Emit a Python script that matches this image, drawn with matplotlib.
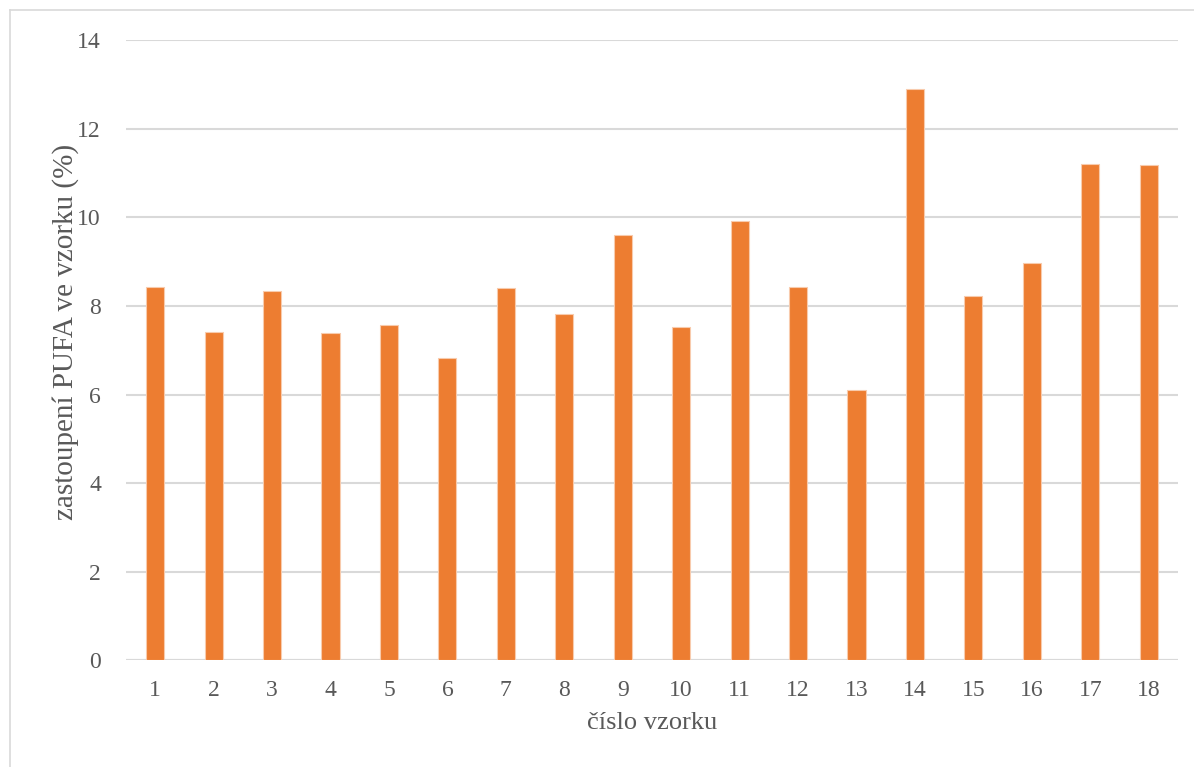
import matplotlib.pyplot as plt
from matplotlib.lines import Line2D

samples = [str(i) for i in range(1, 19)]
pufa = [8.43, 7.41, 8.34, 7.39, 7.57, 6.82, 8.41, 7.82, 9.60,
        7.53, 9.91, 8.42, 6.10, 12.90, 8.23, 8.97, 11.20, 11.17]

plt.rcParams['font.family'] = ['Liberation Serif', 'DejaVu Serif']

fig = plt.figure(figsize=(11.94, 7.67), dpi=100)
ax = fig.add_axes([0.1055, 0.1389, 0.8811, 0.8089])

x = range(len(samples))
ax.bar(x, pufa, width=0.31, color='#ED7D31', edgecolor='#F8CBAD',
       linewidth=0.8, zorder=3)

ax.set_xlim(-0.5, len(samples) - 0.5)
ax.set_ylim(0, 14)
ax.set_yticks(range(0, 15, 2))
ax.set_xticks(list(x))
ax.set_xticklabels(samples)
ax.yaxis.grid(True, color='#D9D9D9', linewidth=1.5, zorder=0)
ax.set_axisbelow(True)
for s in ax.spines.values():
    s.set_visible(False)
ax.axhline(0, color='#D9D9D9', linewidth=1.5, zorder=2)

ax.tick_params(axis='both', length=0, labelsize=17, colors='#595959')
ax.tick_params(axis='y', pad=18)
ax.tick_params(axis='x', pad=14)

ax.set_ylabel('zastoupení PUFA ve vzorku (%)', fontsize=21, color='#595959',
              va='center')
ax.yaxis.set_label_coords(-0.057, 0.53)
ax.set_xlabel('číslo vzorku', fontsize=19, color='#595959')
ax.xaxis.set_label_coords(0.5, -0.083)

# light frame around the chart
fig.add_artist(Line2D([9.5 / 1194, 9.5 / 1194], [0, 1 - 10 / 767],
                      transform=fig.transFigure, color='#D9D9D9', lw=1.2))
fig.add_artist(Line2D([9.5 / 1194, 1], [1 - 10 / 767, 1 - 10 / 767],
                      transform=fig.transFigure, color='#D9D9D9', lw=1.2))

fig.savefig('out.png', dpi=100)
